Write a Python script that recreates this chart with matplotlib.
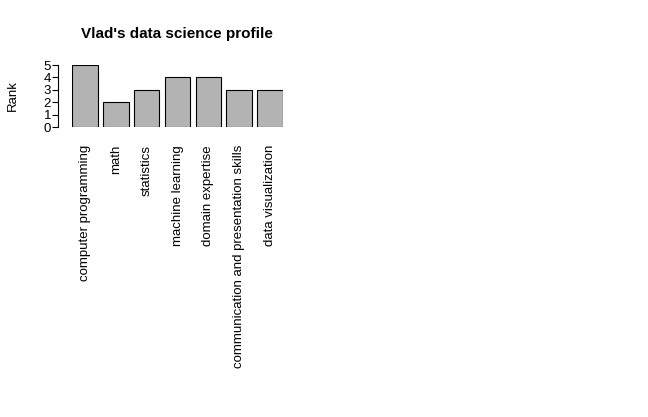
import matplotlib.pyplot as plt
import numpy as np

skills = ["computer programming", "math", "statistics", "machine learning",
          "domain expertise", "communication and presentation skills",
          "data visualization"]
ranks = [5, 2, 3, 4, 4, 3, 3]

plt.rcParams.update({"font.family": ["Liberation Sans", "DejaVu Sans"]})
fig = plt.figure(figsize=(6.48, 4.17), dpi=100)
ax = fig.add_axes([72/648, 1-127/417, 211/648, 62/417])

lefts = 0.2 + 1.2*np.arange(len(ranks))
ax.bar(lefts, ranks, width=1, align="edge", color="#b3b3b3", edgecolor="black", linewidth=0.8)
ax.set_xlim(0.2, 8.4)
ax.set_ylim(0, 5)
for s in ["top", "right", "bottom"]:
    ax.spines[s].set_visible(False)
ax.spines["left"].set_position(("outward", 10))
ax.set_yticks(range(6))
ax.tick_params(axis="y", labelsize=9.5, length=4, pad=1)
ax.set_xticks(lefts + 0.5)
ax.set_xticklabels(skills, rotation=90, fontsize=9.5)
ax.tick_params(axis="x", length=0, pad=13)
ax.set_ylabel("Rank", fontsize=9.5, labelpad=18)
fig.text(177/648, 1-34/417, "Vlad's data science profile", ha="center", va="center",
         fontsize=11, fontweight="bold")
fig.savefig("out.png", dpi=100, facecolor="white")
